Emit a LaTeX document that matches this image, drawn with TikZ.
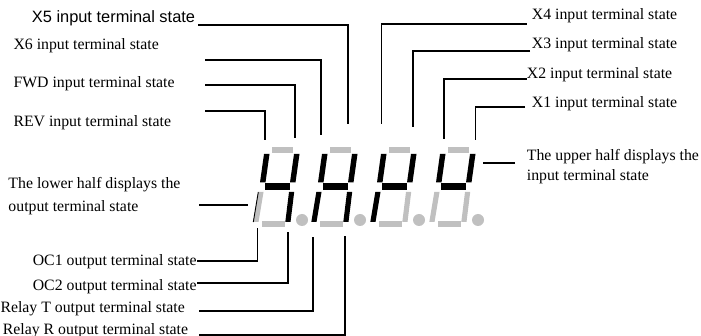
\documentclass[tikz,border=0pt]{standalone}
\usepackage{fontspec}
\setmainfont{Liberation Serif}
\newfontfamily\labsans{Liberation Sans}
\definecolor{segoff}{HTML}{C0C0C0}
\tikzset{
  lab/.style={inner sep=0pt, font=\fontsize{15.8}{19}\selectfont},
  lead/.style={line width=1.8pt, line cap=butt, line join=miter},
}
% x0, top, UL, UR, mid, LL, LR, bottom
\newcommand\mydigit[8]{%
  \fill[#2] ({#1},147) rectangle ({#1+21},153.3);
  \fill[#3] ({#1-8},154) -- ({#1-2.5},154) -- ({#1-6.5},182.5) -- ({#1-12},182.5) -- cycle;
  \fill[#4] ({#1+22},154) -- ({#1+27.5},154) -- ({#1+23.5},182.5) -- ({#1+18},182.5) -- cycle;
  \fill[#5] ({#1-7},183.5) rectangle ({#1+18},190.5);
  \fill[#6] ({#1-13.7},192) -- ({#1-8.5},192) -- ({#1-13.5},222) -- ({#1-18.7},222) -- cycle;
  \fill[#7] ({#1+17},192) -- ({#1+22.2},192) -- ({#1+18.5},222) -- ({#1+13.3},222) -- cycle;
  \fill[#8] ({#1-10},221.5) rectangle ({#1+13.3},227.3);
  \fill[segoff] ({#1+30},220) circle (6pt);
}
\begin{document}
\begin{tikzpicture}[x=1pt,y=-1pt]
\useasboundingbox (0,0) rectangle (701,336);
\clip (0,0) rectangle (701,336);
\fill[white] (0,0) rectangle (701,336);

% digits
\mydigit{272}{segoff}{black}{black}{black}{segoff}{black}{segoff}
\draw[line width=0.9pt] (258.3,192) -- (253.3,222);
\mydigit{330}{segoff}{black}{black}{black}{black}{black}{segoff}
\mydigit{389}{segoff}{black}{black}{black}{black}{segoff}{segoff}
\mydigit{448}{segoff}{black}{black}{black}{segoff}{segoff}{segoff}

% labels, upper left
\node[lab, font=\labsans\fontsize{16.4}{19}\selectfont, anchor=base west] (x5) at (31.7,22.5) {X5 input terminal state};
\node[lab, anchor=base west] (x6) at (13.3,50) {X6 input terminal state};
\node[lab, anchor=base west] (fwd) at (13.3,88) {FWD input terminal state};
\node[lab, anchor=base west] (rev) at (13.3,127) {REV input terminal state};
% labels, upper right
\node[lab, anchor=base west] (x4) at (531.7,20) {X4 input terminal state};
\node[lab, anchor=base west] (x3) at (531.7,48.5) {X3 input terminal state};
\node[lab, anchor=base west] (x2) at (526.7,79) {X2 input terminal state};
\node[lab, anchor=base west] (x1) at (531.7,108) {X1 input terminal state};
% side labels (base anchor = baseline of the last line)
\node[lab, font=\fontsize{15.8}{23.4}\selectfont, align=left, anchor=base west] (low) at (8.3,211.9) {The lower half displays the\\output terminal state};
\node[lab, font=\fontsize{15.8}{20}\selectfont, align=left, anchor=base west] (up) at (526.7,180.2) {The upper half displays the\\input terminal state};
% labels, bottom
\node[lab, anchor=base east] (oc1) at (196.7,265.2) {OC1 output terminal state};
\node[lab, anchor=base east] (oc2) at (196.7,290.2) {OC2 output terminal state};
\node[lab, anchor=base east] (rt) at (185,312.2) {Relay T output terminal state};
\node[lab, anchor=base east] (rr) at (188.3,334.6) {Relay R output terminal state};

% leader line end points
\coordinate (x5a) at (198,25);      \coordinate (x5b) at (348,124.3);
\coordinate (x6a) at (205,60);      \coordinate (x6b) at (321,135);
\coordinate (fwda) at (205,85);     \coordinate (fwdb) at (295,138.3);
\coordinate (reva) at (205,111);    \coordinate (revb) at (265,140);
\coordinate (x4a) at (526.7,24);    \coordinate (x4b) at (381.5,124.3);
\coordinate (x3a) at (530,50.7);    \coordinate (x3b) at (413.3,126.7);
\coordinate (x2a) at (526.7,79);    \coordinate (x2b) at (444.3,139.3);
\coordinate (x1a) at (525,107.3);   \coordinate (x1b) at (475.5,140);
\coordinate (lowa) at (199.3,205);  \coordinate (lowb) at (248.3,205);
\coordinate (upa) at (515,163.3);   \coordinate (upb) at (483.3,163.3);
\coordinate (oc1a) at (197,261);    \coordinate (oc1b) at (257.5,228.5);
\coordinate (oc2a) at (197,282.7);  \coordinate (oc2b) at (288.3,231.7);
\coordinate (rta) at (199.3,310.7); \coordinate (rtb) at (313.3,237.3);
\coordinate (rra) at (199,335);     \coordinate (rrb) at (345,236.5);

\draw[lead] (x5a) -| (x5b);
\draw[lead] (x6a) -| (x6b);
\draw[lead] (fwda) -| (fwdb);
\draw[lead] (reva) -| (revb);
\draw[lead] (x4a) -| (x4b);
\draw[lead] (x3a) -| (x3b);
\draw[lead] (x2a) -| (x2b);
\draw[lead] (x1a) -| (x1b);
\draw[lead] (lowa) -- (lowb);
\draw[lead] (upa) -- (upb);
\draw[lead] (oc1a) -| (oc1b);
\draw[lead] (oc2a) -| (oc2b);
\draw[lead] (rta) -| (rtb);
\draw[lead] (rra) -| (rrb);
\end{tikzpicture}
\end{document}
